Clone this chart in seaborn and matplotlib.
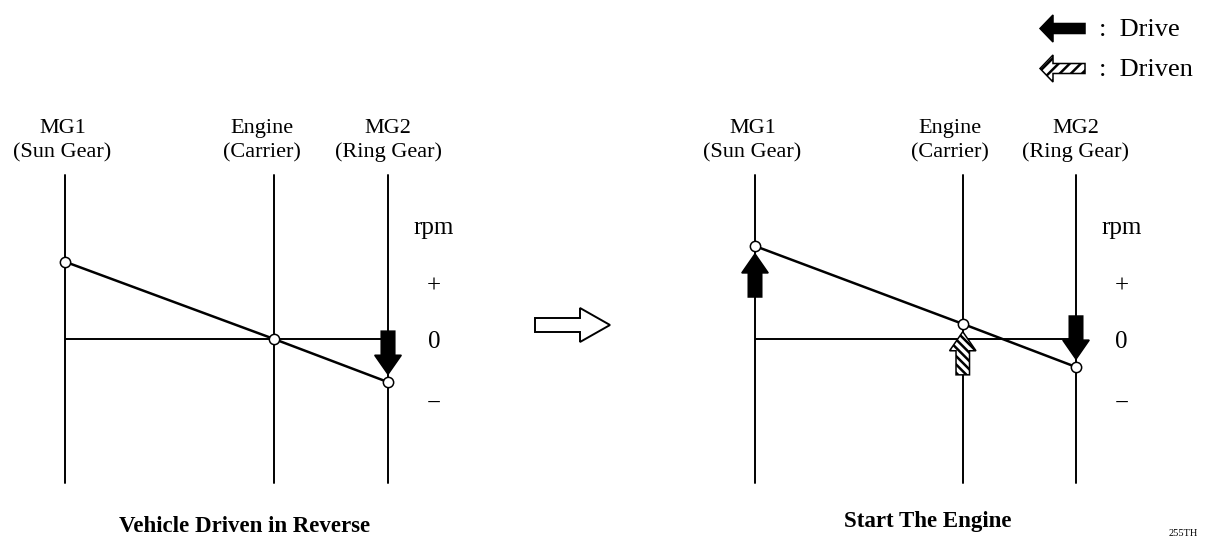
import matplotlib
matplotlib.use("Agg")
import matplotlib.pyplot as plt
import seaborn as sns
import pandas as pd
from matplotlib.patches import FancyArrow

# ---------------- data ----------------
gear_names = ["MG1", "Engine", "MG2"]
gear_parts = ["(Sun Gear)", "(Carrier)", "(Ring Gear)"]
gear_pos = [0.0, 1.0, 1.545]            # relative lever positions
rpm_reverse = [1.38, 0.0, -0.77]         # Vehicle driven in reverse
rpm_start = [1.66, 0.27, -0.50]          # Start the engine
arrows_reverse = [("MG2", "down", "Drive")]
arrows_start = [("MG1", "up", "Drive"), ("Engine", "up", "Driven"), ("MG2", "down", "Drive")]
titles = ["Vehicle Driven in Reverse", "Start The Engine"]
rpm_labels = ["rpm", "+", "0", "\u2212"]
rpm_label_y = [1.98, 0.94, -0.05, -1.15]
legend_labels = ["Drive", "Driven"]
code_label = "255TH"

# ---------------- style ----------------
sns.set_style("white")
plt.rcParams["font.family"] = ["Liberation Serif", "DejaVu Serif"]
plt.rcParams["text.color"] = "black"
plt.rcParams["hatch.linewidth"] = 1.8

W, H = 1209, 549
fig = plt.figure(figsize=(W / 100, H / 100), dpi=100)

ov = fig.add_axes([0, 0, 1, 1])
ov.set_xlim(0, W)
ov.set_ylim(H, 0)
ov.axis("off")

YTOP, YBOT, Y0, PXU = 175, 483, 339, 56
ylim = (-(YBOT - Y0) / PXU, (Y0 - YTOP) / PXU)
label_dx = [-0.012, -0.06, 0.0]

ARR_LEN, ARR_HEAD, ARR_GAP = 0.77, 0.34, 0.14
ARR_W, ARR_HW = 0.065, 0.127


def panel(x_mg1, x_mg2, rpm, arrows):
    ax = fig.add_axes([x_mg1 / W, (H - YBOT) / H, (x_mg2 - x_mg1) / W, (YBOT - YTOP) / H])
    ax.set_xlim(gear_pos[0], gear_pos[-1])
    ax.set_ylim(*ylim)
    ax.axis("off")
    for x in gear_pos:
        ax.axvline(x, color="black", lw=1.4, clip_on=False, zorder=1)
    ax.hlines(0, gear_pos[0], gear_pos[-1], color="black", lw=1.4, zorder=1)
    df = pd.DataFrame({"x": gear_pos, "rpm": rpm})
    sns.lineplot(data=df, x="x", y="rpm", ax=ax, color="black", lw=1.8,
                 sort=False, clip_on=False, zorder=2)
    for g, d, kind in arrows:
        i = gear_names.index(g)
        s = 1 if d == "down" else -1
        tip = rpm[i] + s * ARR_GAP
        start = tip + s * ARR_LEN
        p = FancyArrow(gear_pos[i], start, 0, -s * ARR_LEN, width=ARR_W,
                       head_width=ARR_HW, head_length=ARR_HEAD,
                       length_includes_head=True,
                       facecolor="black" if kind == "Drive" else "white",
                       edgecolor="black", lw=1.1,
                       hatch=None if kind == "Drive" else "\\\\\\\\", zorder=4)
        p.set_clip_on(False)
        ax.add_patch(p)
    sns.scatterplot(data=df, x="x", y="rpm", ax=ax, s=55, color="white",
                    edgecolor="black", linewidth=1.1, zorder=6, clip_on=False)
    ax.set_xlabel("")
    ax.set_ylabel("")
    for i, x in enumerate(gear_pos):
        ax.text(x + label_dx[i], 3.68, gear_names[i], ha="center", va="baseline",
                fontsize=16, clip_on=False)
        ax.text(x + label_dx[i], 3.25, gear_parts[i], ha="center", va="baseline",
                fontsize=16, clip_on=False)
    for lab, y in zip(rpm_labels, rpm_label_y):
        ax.text(gear_pos[-1] + 0.22, y, lab, ha="center", va="center",
                fontsize=18, clip_on=False)
    return ax


panel(65, 388, rpm_reverse, arrows_reverse)
panel(755, 1076, rpm_start, arrows_start)

# titles
ov.text(245, 527, titles[0], ha="center", va="center", fontsize=16.5, fontweight="bold")
ov.text(928, 521, titles[1], ha="center", va="center", fontsize=16.5, fontweight="bold")
ov.text(1183, 533, code_label, ha="center", va="center", fontsize=7.5)

# transition arrow
ov.add_patch(FancyArrow(535, 325, 75, 0, width=14, head_width=34, head_length=30,
                        length_includes_head=True, facecolor="white",
                        edgecolor="black", lw=1.4))

# legend
for k, (lab, y) in enumerate(zip(legend_labels, [28.5, 68.5])):
    ov.add_patch(FancyArrow(1085, y, -45, 0, width=10, head_width=27, head_length=13,
                            length_includes_head=True,
                            facecolor="black" if k == 0 else "white",
                            edgecolor="black", lw=1.1,
                            hatch=None if k == 0 else "///"))
    ov.text(1099, y + 2, ":  " + lab, ha="left", va="center", fontsize=19)

fig.savefig("out.png", dpi=100)
